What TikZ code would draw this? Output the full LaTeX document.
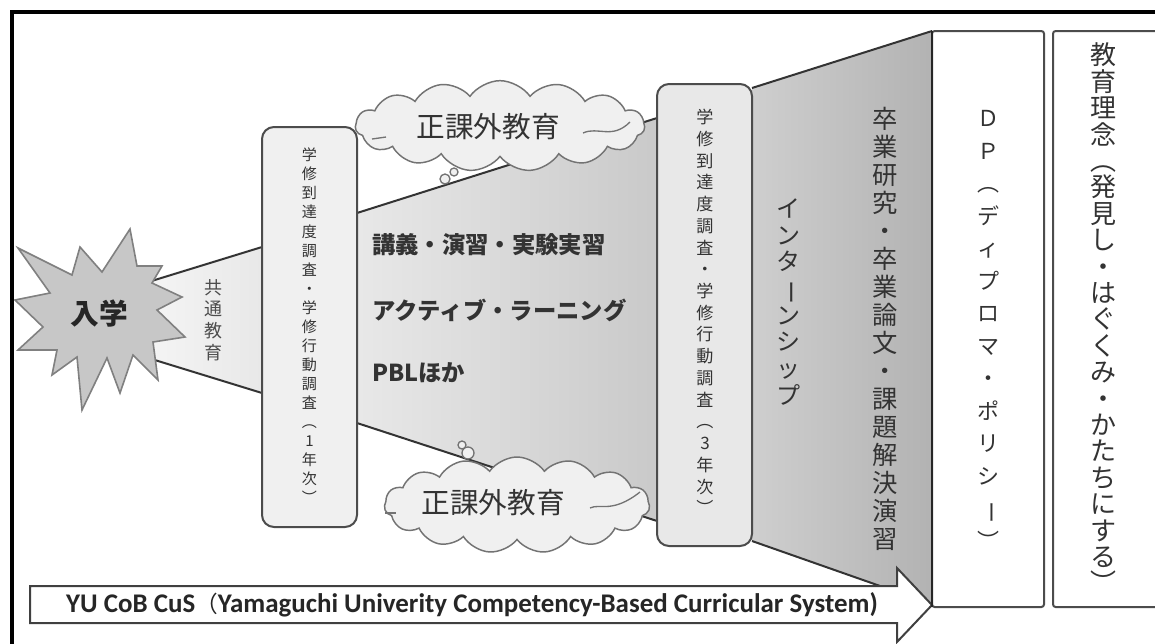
\documentclass[tikz,border=0pt]{standalone}
\usepackage{fontspec}
\setmainfont{Noto Sans CJK JP}
\newfontfamily\carl{Carlito}
\usetikzlibrary{shapes.symbols}
\newcommand\vr[1]{\rotatebox[origin=c]{-90}{#1}}
\begin{document}
\begin{tikzpicture}[x=0.75pt,y=-0.75pt,
  edge/.style={draw=black!80,line width=1.5pt},
  roundbox/.style={draw=black!70,line width=1.5pt,rounded corners=9pt},
  plainbox/.style={draw=black!70,line width=1.5pt,rounded corners=2pt,fill=white},
  vtxt/.style={align=center,inner sep=0pt,text=black!80},
  cloudbox/.style={cloud,cloud puffs=15,cloud puff arc=110,draw=black!55,line width=1.1pt,fill=black!6,inner sep=0pt},
  bubble/.style={draw=black!55,line width=1pt,fill=black!6},
  cloudtxt/.style={inner sep=0pt,text=black!80,font=\fontsize{21.5}{24}\selectfont},
  midtxt/.style={anchor=west,inner sep=0pt,text=black!80,font=\fontsize{17.5}{20}\selectfont\bfseries}]
\useasboundingbox (0,0) rectangle (1155,643);
\clip (0,0) rectangle (1155,643);
\fill[white] (0,0) rectangle (1155,643);

% funnel 1
\shade[left color=black!4,right color=black!9] (145,283) -- (262,247) -- (262,393) -- (145,357) -- cycle;
\draw[edge] (145,283) -- (262,247);
\draw[edge] (145,357) -- (262,393);
% funnel 2
\shade[left color=black!9,right color=black!21] (357,213) -- (657,118) -- (657,521) -- (357,423) -- cycle;
\draw[edge] (357,213) -- (657,118);
\draw[edge] (357,423) -- (657,521);
% funnel 3
\shade[left color=black!19,right color=black!30] (752,88) -- (932,31) -- (932,605) -- (900,593) -- (752,541) -- cycle;
\draw[edge] (752,88) -- (932,31);
\draw[edge] (752,541) -- (900,593);

% boxes
\draw[roundbox,fill=black!6] (262,127) rectangle (357,527);
\draw[roundbox,fill=black!9] (657,84) rectangle (752,546);

% star
\draw[draw=black!50,line width=1.2pt,fill=black!22]
 (130,229) -- (137,266) -- (162,266) -- (152,283) -- (182,297) -- (157,310) -- (185,337)
 -- (153,342) -- (158,380) -- (133,355) -- (120,393) -- (107,358) -- (82,410) -- (77,357)
 -- (52,375) -- (57,350) -- (18,350) -- (43,327) -- (15,300) -- (50,293) -- (18,248)
 -- (72,275) -- (80,247) -- (102,272) -- cycle;
\node[inner sep=0pt,text=black!85,font=\fontsize{21.5}{24}\selectfont\bfseries] (nyu) at (99,314) {入学};

% clouds
\node[cloudbox,minimum width=217pt,minimum height=68pt] (c1) at (500,126) {};
\node[cloudtxt] (c1t) at (488,127) {正課外教育};
\draw[black!55,line width=1pt] (372,139) -- (386,137);
\draw[black!55,line width=1pt] (583,133) .. controls (598,126) and (612,140) .. (630,122);
\draw[bubble] (445,179) circle (5);
\draw[bubble] (454,172) circle (4);

\node[cloudbox,minimum width=199pt,minimum height=72pt] (c2) at (517,505) {};
\node[cloudtxt] (c2t) at (493,503) {正課外教育};
\draw[black!55,line width=1pt] (385,513) -- (396,513);
\draw[black!55,line width=1pt] (590,508) .. controls (600,503) and (612,514) .. (640,492);
\draw[bubble] (462,445) circle (4);
\draw[bubble] (468,453) circle (6);

% middle texts
\node[midtxt] (m1) at (372,245) {講義・演習・実験実習};
\node[midtxt] (m2) at (372,310) {アクティブ・ラーニング};
\node[midtxt] (m3) at (372,373) {PBLほか};

% vertical texts
\node[vtxt,text=black!70,font=\fontsize{13.5}{16.2}\selectfont] (kyotsu) at (213,320) {共\\通\\教\\育};
\node[vtxt,font=\fontsize{11.3}{14.3}\selectfont] (b1t) at (309.5,326)
 {学\\修\\到\\達\\度\\調\\査\\・\\学\\修\\行\\動\\調\\査\\︵\\1\\年\\次\\︶};
\node[vtxt,font=\fontsize{12.8}{16.3}\selectfont] (b2t) at (705,312)
 {学\\修\\到\\達\\度\\調\\査\\・\\学\\修\\行\\動\\調\\査\\︵\\3\\年\\次\\︶};
\node[vtxt,font=\fontsize{18}{20}\selectfont] (intern) at (788,302)
 {イ\\ン\\タ\\\vr{ー}\\ン\\シ\\ッ\\プ};
\node[vtxt,font=\fontsize{19}{21}\selectfont] (sotsu) at (885,329)
 {卒\\業\\研\\究\\・\\卒\\業\\論\\文\\・\\課\\題\\解\\決\\演\\習};

% arrow
\draw[line width=1.5pt,draw=black!75,fill=white] (30,586) -- (897,586) -- (897,568) -- (932,605)
 -- (897,642) -- (897,623) -- (30,623) -- cycle;
\node[inner sep=0pt,text=black!85,font=\fontsize{20.2}{22}\carl\bfseries] (yu) at (472,605)
 {YU CoB CuS{\rmfamily\mdseries\fontsize{17}{20}\selectfont （}Yamaguchi Univerity Competency-Based Curricular System)};

% funnel 3 right edge / DP box
\draw[plainbox] (932,31) rectangle (1044,607);
\draw[plainbox] (1053,31) rectangle (1175,607);
\draw[black!85,line width=2.2pt] (932,31) -- (932,607);
\node[vtxt,font=\fontsize{16.5}{24.4}\selectfont] (dp) at (988,330)
 {Ｄ\\Ｐ\\︵\\デ\\ィ\\プ\\ロ\\マ\\・\\ポ\\リ\\シ\\\vr{ー}\\︶};
\node[vtxt,font=\fontsize{19.5}{19.8}\selectfont] (rinen) at (1103,318)
 {教\\育\\理\\念\\︵\\発\\見\\し\\・\\は\\ぐ\\く\\み\\・\\か\\た\\ち\\に\\す\\る\\︶};

% outer frame
\draw[black,line width=3pt] (12,660) -- (12,12) -- (1170,12);
\end{tikzpicture}
\end{document}
